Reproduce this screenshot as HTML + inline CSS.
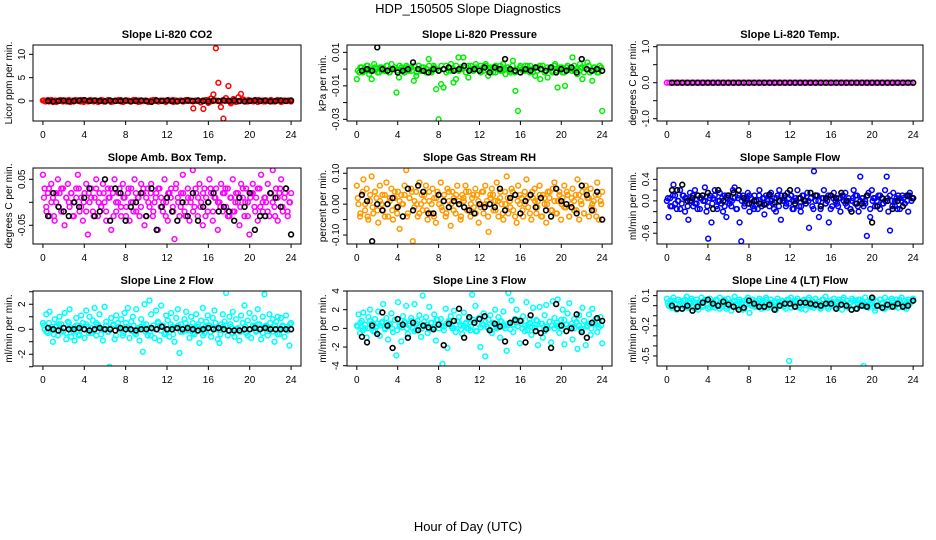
<!DOCTYPE html>
<html><head><meta charset="utf-8">
<style>
html,body{margin:0;padding:0;background:#fff;}
svg{display:block;font-family:"Liberation Sans",Arial,sans-serif;}
</style></head>
<body>
<svg id="chart" width="936" height="540" viewBox="0 0 936 540">
<text x="468" y="13" text-anchor="middle" font-size="13">HDP_150505  Slope Diagnostics</text>
<text x="468" y="531" text-anchor="middle" font-size="13">Hour of Day (UTC)</text>
</svg>
<script>
const xTicks = [0,4,8,12,16,20,24];

const co2Color = [0.1,-0.1,0.2,0,-0.2,0.1,0,0.2,-0.1,0.1, 0,-0.2,0.1,0.2,0,-0.1,0.1,0,-0.1,0.2, 0,0.1,-0.2,0,0.1,-0.1,0.2,0,-0.1,0.1, 0,0.2,-0.2,0,0.1,-0.1,0,0.2,0.1,-0.1, 0,0.1,-0.2,0.1,0,0.2,-0.1,0,0.1,-0.1, 0.2,0,-0.2,0.1,0,0.1,-0.1,0.2,0,0.1, -1.6,0,0.1,-0.3,-1.7,0.2,-0.4,0.5,1.4,11.3, 3.9,-1.3,-3.8,0.6,3.2,-0.5,0.4,-0.2,0.8,1.5, 0.3,-0.1,0.2,0,-0.1,0.1,0.2,0,-0.1,0.1, 0,0.2,-0.1,0,0.1,-0.2,0.1,0,0.1,-0.1];
const co2Core = [0.1,0,-0.1,0.2,0,-0.2,0.1,0,0.1,-0.1, 0.2,0,-0.1,0.1,0,0.2,-0.2,0,0.1,0, -0.1,0.1,0,0.2,-0.1,0,0.1,-0.2,0,0.1, 0.2,-0.1,0,0.1,0,-0.1,0.2,0,-0.2,0.1, 0,0.1,-0.1,0,0.2,0,-0.1,0.1,0,-0.2, 0.1,0,0.2,-0.1,0,0.1,-0.1,0,0.2,0, -0.1,0.1,0,-0.2,0.1,0,0.2,-0.1,0,0.1, 0,-0.1,0.2,0,0.1,-0.2,0,0.1,-0.1,0, 0.2,0,-0.1,0.1,0,0.2,-0.2,0,0.1,-0.1, 0,0.1,0,-0.1,0.2,0,-0.1,0.1,0,0.1];
const co2Black = [0,-0.1,0,0.1,-0.1,0,0.1,0.2,0,0.1,0,-0.1,0.1,0,0,0.1,-0.1,0,0.1,0,-0.2,0.1,0,0.1,0,-0.1,0,0.1,0,0.1,0,-0.1,0.1,0,0.1,0,0.1,0,-0.1,0,0.1,0,0.1,-0.1,0,0.1,0,0.1];

const presColor = [-0.006,-0.002,0.001,-0.001,0.002,-0.003,-0.006,0.003,0,-0.002, 0.001,-0.001,0.002,-0.002,0.003,0,-0.014,-0.005,0.001,-0.002, 0.002,-0.001,0.001,-0.007,-0.004,0.002,-0.001,0.001,-0.002,0.006, -0.001,0.002,-0.012,-0.030,-0.009,-0.011,0.002,-0.001,0.003,-0.008, -0.006,0.007,0.001,0.007,-0.002,-0.005,0.002,-0.001,0.003,0, 0.002,-0.001,0.003,-0.004,0.001,-0.002,0.002,0,-0.001,0.003, -0.003,0.001,-0.002,0.005,-0.013,-0.025,0.002,-0.001,0.002,0, 0.002,-0.002,-0.004,0.001,-0.006,0.002,-0.001,-0.005,0.001,-0.002, 0.003,-0.011,0.001,-0.002,-0.010,0.002,0,0.007,-0.001,-0.003, 0.003,-0.006,0.001,0.004,-0.002,-0.007,0.001,-0.002,0.002,-0.025];
const presCore = [-0.001,0.001,-0.002,0,0.002,-0.001,0,0.001,-0.002,0.001, 0,-0.001,0.002,-0.002,0,0.001,-0.001,0.002,0,-0.002, 0.001,0,-0.001,0.002,-0.002,0,0.001,-0.001,0,0.002, -0.002,0.001,0,-0.001,0.002,0,-0.002,0.001,-0.001,0, 0.002,-0.001,0,0.001,-0.002,0.002,0,-0.001,0.001,0, -0.002,0.001,0.002,-0.001,0,0.001,-0.002,0,0.002,-0.001, 0,0.001,-0.001,0.002,-0.002,0,0.001,0,-0.001,0.002, -0.002,0,0.001,-0.001,0.002,0,-0.002,0.001,0,-0.001, 0.002,-0.001,0,0.001,-0.002,0.001,0,-0.001,0.002,0, -0.001,0.001,-0.002,0,0.002,-0.001,0.001,0,-0.002,0.001];
const presBlack = [-0.001,0,-0.001,0.013,0,-0.001,0,-0.002,-0.001,0,0.004,0,-0.001,-0.002,0,-0.001,0,0.001,-0.001,0,0.002,-0.001,0,-0.001,0.001,-0.002,0.001,0,0.006,0,-0.001,-0.002,0,-0.001,0.001,0,-0.001,0.001,-0.002,0,-0.001,0.001,-0.002,0.006,0,-0.001,0,-0.001];

const tempColor = [0,0,0,0,0,0,0,0,0,0, 0,0,0,0,0,0,0,0,0,0, 0,0,0,0,0,0,0,0,0,0, 0,0,0,0,0,0,0,0,0,0, 0,0,0,0,0,0,0,0,0,0, 0,0,0,0,0,0,0,0,0,0, 0,0,0,0,0,0,0,0,0,0, 0,0,0,0,0,0,0,0,0,0, 0,0,0,0,0,0,0,0,0,0, 0,0,0,0,0,0,0,0,0,0];
const tempCore = [];
const tempBlack = [0,0,0,0,0,0,0,0,0,0,0,0,0,0,0,0,0,0,0,0,0,0,0,0,0,0,0,0,0,0,0,0,0,0,0,0,0,0,0,0,0,0,0,0,0,0,0,0];

const ambColor = [0.06,0.03,-0.01,0.02,-0.03,0.04,0.01,-0.04,0.0,0.05, 0.02,-0.02,0.03,-0.05,0.01,0.04,-0.01,0.02,-0.03,0.0, 0.03,0.06,-0.02,0.01,-0.04,0.02,0.04,-0.07,0.0,0.03, -0.02,0.01,0.05,-0.03,0.02,-0.01,0.04,0.0,-0.04,0.03, 0.01,-0.06,0.02,0.05,-0.02,0.0,0.03,-0.03,0.04,0.01, -0.01,0.02,-0.04,0.03,0.0,0.05,-0.02,0.01,-0.03,0.04, 0.02,-0.05,0.01,0.03,-0.01,0.04,-0.03,0.0,0.02,-0.06, 0.03,0.01,-0.02,0.05,0.0,-0.04,0.02,0.03,-0.01,-0.08, 0.04,0.01,-0.03,0.02,0.06,-0.02,0.0,0.03,-0.04,0.01, 0.07,-0.01,0.02,-0.03,0.04,0.0,-0.05,0.03,0.01,-0.02, 0.05,0.02,-0.04,0.01,0.03,-0.06,0.0,0.04,-0.02,0.02, -0.01,0.03,-0.03,0.01,0.05,-0.02,0.02,0.0,-0.05,0.04, 0.01,-0.03,0.03,0.0,-0.07,0.02,0.04,-0.01,0.01,-0.04, 0.03,0.06,-0.02,0.01,0.0,0.04,-0.03,0.02,0.07,-0.01, 0.03,-0.04,0.02,0.05,-0.02,0.01,0.03,-0.03,0.0,0.02];
const ambCore = [0.01,-0.02,0.03,0.0,-0.03,0.02,-0.01,0.03,-0.02,0.01, 0.0,0.02,-0.03,0.01,0.03,-0.01,0.0,-0.02,0.02,0.01, -0.03,0.03,0.0,-0.01,0.02,-0.02,0.01,0.03,-0.03,0.0, 0.02,-0.01,0.01,-0.03,0.03,0.0,-0.02,0.02,0.01,-0.01, 0.03,-0.03,0.0,0.02,-0.02,0.01,0.03,-0.01,0.0,-0.03, 0.02,0.01,-0.02,0.03,0.0,-0.01,0.02,-0.03,0.01,0.0, -0.02,0.03,0.01,-0.01,0.02,-0.03,0.0,0.03,-0.02,0.01, 0.0,-0.01,0.02,0.03,-0.03,0.01,-0.02,0.0,0.02,-0.01, 0.03,0.0,-0.03,0.01,0.02,-0.02,0.03,-0.01,0.0,0.01, -0.02,0.02,0.0,-0.03,0.01,0.03,-0.01,0.02,-0.02,0.0];
const ambBlack = [-0.03,0.02,-0.01,-0.02,-0.03,0.0,-0.01,0.01,0.03,-0.03,-0.02,0.05,-0.04,0.03,0.02,-0.04,-0.01,0.0,0.02,-0.03,0.03,-0.06,-0.01,0.01,-0.02,-0.04,0.0,-0.03,0.02,-0.04,-0.01,0.0,0.02,-0.02,-0.01,-0.02,-0.04,0.01,-0.01,0.02,-0.06,-0.03,-0.03,0.02,0.01,-0.01,0.03,-0.07];

const rhColor = [0.06,0.0,-0.04,0.03,0.08,-0.02,0.05,-0.05,0.01,0.09, -0.03,0.04,0.02,-0.06,0.06,0.0,-0.02,0.03,0.07,-0.04, 0.01,0.05,-0.05,0.02,-0.01,0.04,-0.08,0.03,0.0,0.06, 0.11,-0.03,0.02,0.05,-0.12,0.01,0.04,-0.04,0.07,0.0, -0.02,0.03,0.06,-0.05,0.01,-0.03,0.05,0.02,-0.06,0.04, 0.0,0.07,-0.02,0.03,-0.04,0.05,0.01,-0.07,0.04,0.02, -0.03,0.06,0.0,-0.05,0.03,0.01,0.06,-0.02,0.04,-0.04, 0.02,-0.01,0.05,0.03,-0.06,0.0,0.04,-0.03,0.06,0.01, -0.09,0.03,0.05,-0.02,0.01,0.07,-0.04,0.02,0.0,-0.05, 0.04,0.09,-0.03,0.01,0.05,-0.02,0.03,-0.06,0.06,0.0, 0.02,-0.04,0.04,0.08,-0.01,0.03,-0.05,0.02,0.05,-0.03, 0.01,0.06,-0.04,0.03,0.0,-0.06,0.04,0.02,-0.02,0.05, 0.07,-0.03,0.01,0.04,-0.05,0.02,0.06,-0.01,0.03,-0.04, 0.0,0.05,-0.02,0.03,0.08,-0.05,0.01,0.04,-0.03,0.06, 0.02,-0.04,0.05,0.0,-0.02,0.03,0.07,-0.05,0.01,0.04];
const rhCore = [0.02,-0.03,0.04,0.0,-0.04,0.03,-0.01,0.04,-0.02,0.01, 0.03,-0.04,0.0,0.02,-0.02,0.04,-0.03,0.01,0.0,0.03, -0.04,0.02,0.04,-0.01,0.0,-0.03,0.03,0.01,-0.02,0.04, 0.0,-0.04,0.02,0.03,-0.01,0.01,-0.03,0.04,0.0,-0.02, 0.03,0.01,-0.04,0.02,0.04,-0.02,0.0,0.03,-0.03,0.01, -0.01,0.04,0.0,-0.04,0.02,0.03,-0.02,0.01,0.04,-0.03, 0.0,0.02,-0.01,0.04,-0.04,0.01,0.03,-0.02,0.0,0.02, -0.03,0.04,0.01,-0.01,0.03,-0.04,0.02,0.0,0.04,-0.02, 0.01,-0.03,0.03,0.0,-0.01,0.04,-0.04,0.02,0.01,-0.02, 0.03,0.0,-0.03,0.04,0.02,-0.01,0.01,-0.04,0.03,0.0];
const rhBlack = [0.03,0.01,-0.12,0.0,-0.02,0.0,0.02,-0.01,-0.04,0.05,-0.02,0.06,0.04,-0.03,-0.03,0.03,0.01,-0.01,0.01,0.0,-0.01,-0.02,-0.03,0.0,-0.01,0.0,-0.01,0.05,-0.02,0.02,0.03,-0.03,0.01,0.03,-0.01,0.02,-0.02,-0.04,0.05,0.01,0.0,-0.01,-0.03,0.06,0.03,-0.02,0.04,-0.05];

const sampColor = [0.0,-0.3,0.05,-0.1,0.3,0.1,-0.15,0.0,0.2,-0.05, 0.1,-0.2,0.05,-0.35,0.15,0.0,-0.1,0.2,-0.05,0.1, -0.15,0.05,0.0,0.25,-0.2,-0.7,0.1,-0.4,0.05,0.2, -0.1,0.0,0.15,-0.05,-0.2,0.1,-0.3,0.05,0.0,-0.1, 0.2,0.25,-0.15,0.05,-0.4,-0.75,0.1,-0.05,0.0,0.15, -0.2,0.05,-0.1,0.1,0.0,-0.15,0.2,-0.05,0.05,-0.25, 0.1,0.0,-0.1,0.15,-0.05,0.05,-0.2,0.1,0.2,-0.35, 0.0,0.05,-0.1,0.15,-0.05,0.1,-0.15,0.0,0.05,0.2, -0.1,-0.2,0.1,0.0,-0.05,0.15,-0.5,0.05,-0.1,0.55, 0.0,0.1,-0.3,-0.15,0.05,0.2,-0.05,0.0,-0.4,0.1, -0.1,0.15,0.0,-0.05,0.05,-0.2,0.1,0.0,0.15,-0.1, 0.05,-0.15,0.0,0.2,-0.05,0.1,-0.2,0.45,0.05,-0.1, 0.0,-0.65,0.15,-0.3,0.2,0.05,-0.1,0.0,0.1,-0.15, 0.05,-0.05,0.2,0.45,-0.2,-0.55,0.0,0.15,-0.1,0.05, 0.1,-0.15,0.0,0.05,-0.05,0.1,-0.2,0.15,0.0,0.05];
const sampCore = [0.05,-0.1,0.1,-0.05,0.0,-0.15,0.1,0.05,-0.1,0.0, 0.1,-0.05,-0.15,0.05,0.1,0.0,-0.1,0.05,-0.05,0.1, -0.15,0.0,0.05,-0.1,0.1,-0.05,0.0,0.05,-0.15,0.1, 0.0,-0.1,0.05,0.1,-0.05,-0.15,0.0,0.1,-0.1,0.05, -0.05,0.1,0.0,-0.15,0.05,-0.1,0.1,0.0,-0.05,0.05, 0.1,-0.15,0.0,0.05,-0.1,0.1,-0.05,0.0,0.05,-0.15, 0.1,0.0,-0.1,0.05,-0.05,0.1,-0.15,0.05,0.0,-0.1, 0.05,0.1,-0.05,0.0,-0.15,0.05,0.1,-0.1,0.0,0.05, -0.05,0.1,-0.15,0.0,0.05,-0.1,0.1,-0.05,0.0,0.05, 0.1,-0.1,0.0,-0.15,0.05,0.1,-0.05,0.0,0.1,0.05];
const sampBlack = [0.2,0.2,0.3,0.0,0.05,0.1,0.1,0.15,-0.15,0.2,0.0,0.1,0.15,0.2,0.05,-0.05,0.0,-0.05,-0.07,0.12,-0.03,0.0,0.1,0.2,-0.05,0.05,0.0,0.15,0.1,-0.1,0.05,0.1,0.05,0.15,0.0,-0.2,-0.05,-0.05,0.1,-0.4,-0.1,0.05,0.0,-0.15,0.0,-0.1,0.1,0.05];

const l2Color = [0.5,0.0,1.2,-0.3,1.4,0.2,-1.0,0.8,0.3,-0.5, 1.0,0.4,-0.2,1.3,-0.8,0.6,1.6,-0.6,0.1,-0.9, 0.9,0.3,-0.4,1.1,0.5,-0.7,1.5,0.2,1.0,-0.3, 0.7,1.7,-0.5,0.4,1.2,0.0,-0.9,1.8,0.6,-0.2, -3.0,0.9,0.3,-0.8,1.1,0.5,0.0,0.8,-0.5,1.3, 0.2,1.7,-0.7,0.6,1.0,-0.3,1.6,0.1,-0.9,0.8, -1.8,2.0,0.4,-0.5,2.3,1.2,0.0,-0.7,1.5,0.6, -0.9,1.9,0.3,-0.4,1.1,0.7,-0.6,1.3,0.2,-1.0, 0.9,1.6,-1.9,0.4,-0.2,0.8,1.4,0.0,-0.7,1.0, 0.5,-0.4,1.2,0.2,-1.1,0.7,1.7,-0.3,0.6,1.1, 0.3,-0.6,0.9,1.5,0.0,-0.8,-1.1,0.4,1.2,0.6, 2.9,-0.5,1.0,0.2,1.4,-0.6,0.8,0.0,-0.9,1.1, 0.5,1.9,-0.3,0.7,1.3,-0.7,0.2,0.9,-0.2,1.6, 0.4,-0.8,1.0,2.8,0.3,-0.5,1.2,0.0,0.8,-1.0, 0.6,1.0,-0.4,0.9,0.3,-0.6,1.1,0.2,-1.3,0.5];
const l2Core = [0.3,-0.2,0.5,0.0,-0.4,0.2,0.4,-0.1,0.1,-0.3, 0.5,0.0,-0.2,0.3,-0.5,0.2,0.0,0.4,-0.3,0.1, -0.1,0.5,0.2,-0.4,0.0,0.3,-0.2,0.1,0.4,-0.5, 0.2,0.0,-0.3,0.5,0.1,-0.1,0.3,-0.4,0.0,0.2, 0.4,-0.2,0.1,-0.5,0.3,0.0,0.5,-0.1,0.2,-0.3, 0.0,0.4,-0.4,0.1,0.3,-0.2,0.0,0.5,-0.1,0.2, -0.3,0.1,0.4,0.0,-0.5,0.2,0.3,-0.2,0.1,0.5, 0.0,-0.4,0.2,0.3,-0.1,0.4,-0.3,0.0,0.1,-0.2, 0.5,0.2,-0.5,0.0,0.3,-0.1,0.4,0.1,-0.3,0.2, 0.0,0.5,-0.2,0.3,-0.4,0.1,0.2,0.0,-0.1,0.4];
const l2Black = [0.1,0.0,-0.1,0.1,0.0,0.0,0.1,0.0,-0.1,0.0,0.1,0.0,0.0,-0.1,0.1,0.0,0.0,-0.1,0.0,0.0,0.1,0.0,0.2,0.0,0.0,0.1,0.0,0.1,0.0,-0.1,0.0,0.1,0.0,0.1,0.0,-0.1,-0.1,-0.1,0.0,0.0,0.1,0.0,0.1,0.0,0.0,0.0,0.0,0.0];

const l3Color = [0.3,1.5,-0.5,0.8,1.7,0.0,-1.0,1.2,2.0,0.5, -0.3,1.0,0.2,1.8,-0.8,0.6,2.6,0.0,1.1,-1.2, 0.4,1.6,-0.4,0.9,-2.9,2.8,0.2,-1.4,1.3,0.7, 2.4,-0.6,0.5,1.1,0.0,2.6,-0.2,0.8,1.4,-0.9, 3.5,0.3,1.2,-0.5,2.3,0.6,0.0,1.5,-1.3,0.9, 0.4,1.0,-3.8,0.2,2.1,-2.1,0.7,1.3,0.0,1.9, -0.4,0.8,1.2,0.3,-0.6,1.7,0.5,0.0,1.0,-0.2, 3.6,0.6,2.4,-0.3,1.1,-2.0,0.4,1.6,-3.0,0.2, 0.9,1.4,-0.5,0.6,2.0,0.0,1.2,-1.0,0.7,1.8, 0.3,-2.4,3.8,0.5,3.0,-0.4,1.0,2.0,0.2,-1.6, 0.8,1.3,-0.3,2.8,0.4,1.0,-0.7,2.2,0.1,0.9, -1.8,2.3,0.5,-1.0,1.4,2.5,0.0,0.7,-1.5,2.9, 1.1,0.3,3.1,-0.5,0.9,2.0,-1.7,0.4,1.6,2.7, 0.2,-1.2,1.0,0.6,-2.2,1.4,0.0,2.2,0.8,-1.8, 0.3,1.5,-0.7,2.1,0.5,1.0,-0.4,0.7,1.2,-1.6];
const l3Core = [0.2,0.6,-0.2,0.4,0.0,0.8,0.1,-0.3,0.5,0.3, 0.7,-0.1,0.2,0.5,0.0,0.9,-0.2,0.4,0.1,0.6, 0.0,0.3,0.8,-0.3,0.5,0.2,0.0,0.7,0.4,-0.1, 0.6,0.1,0.9,0.0,0.3,-0.2,0.5,0.8,0.2,0.0, 0.4,0.7,-0.1,0.3,0.6,0.0,0.2,0.9,-0.3,0.5, 0.1,0.4,0.7,0.0,-0.2,0.6,0.3,0.1,0.8,0.2, 0.0,0.5,-0.1,0.4,0.7,0.2,0.9,0.0,0.3,-0.2, 0.6,0.1,0.4,0.8,0.0,0.5,-0.3,0.2,0.7,0.3, 0.0,0.6,0.2,-0.1,0.9,0.4,0.1,0.5,0.0,0.7, 0.3,-0.2,0.8,0.2,0.5,0.0,0.6,0.4,0.1,0.3];
const l3Black = [-0.9,-1.5,0.3,-0.6,1.7,0.3,-2.1,1.0,0.4,-1.0,0.6,-0.2,0.3,0.1,-0.1,0.4,-1.8,0.5,0.8,2.1,-1.0,1.2,0.6,1.0,1.3,-0.2,0.5,0.2,-1.4,0.6,0.9,0.8,-1.5,1.4,-0.3,-0.5,-0.1,-2.1,2.6,0.3,-0.3,0.0,1.5,-0.4,-1.0,0.6,1.1,0.8];

const l4Color = [0.07,0.0,0.05,-0.02,0.08,0.02,-0.04,0.06,0.01,-0.03, 0.05,0.0,0.09,-0.02,0.04,0.07,-0.01,0.03,0.06,-0.04, 0.02,0.08,0.0,-0.63,0.05,-0.03,0.07,0.01,0.04,-0.02, 0.06,0.0,0.08,-0.01,0.03,0.05,-0.03,0.07,0.02,-0.05, 0.04,0.09,0.0,-0.02,0.06,0.03,-0.04,0.05,0.01,0.08, -0.07,0.02,0.06,-0.01,0.04,0.0,0.07,-0.03,0.05,0.02, 0.08,-0.02,0.03,0.06,0.0,0.04,-0.04,0.07,0.01,0.03, 0.05,0.02,-0.03,0.06,-0.55,0.08,0.03,-0.01,0.05,0.07, -0.02,0.04,0.01,0.06,-0.04,0.03,0.08,0.0,0.05,-0.02, 0.07,0.02,0.04,-0.03,0.06,0.01,0.09,-0.01,0.03,0.05, 0.0,0.07,-0.02,0.04,0.06,0.01,-0.04,0.08,0.02,0.05, -0.01,0.03,0.07,0.0,0.05,-0.03,0.06,0.02,0.04,-0.60, 0.08,0.01,-0.02,0.05,0.03,0.07,-0.05,0.04,0.0,0.06, 0.02,-0.03,0.08,0.01,0.05,-0.01,0.07,0.03,0.0,0.06, -0.02,0.04,0.08,0.01,0.05,-0.03,0.06,0.02,0.04,0.07];
const l4Core = [0.03,-0.01,0.05,0.01,-0.03,0.04,0.0,0.06,-0.02,0.02, 0.05,-0.03,0.01,0.04,-0.01,0.06,0.02,-0.02,0.03,0.0, 0.05,-0.03,0.02,0.06,-0.01,0.03,0.0,0.05,-0.02,0.04, 0.01,-0.03,0.06,0.02,0.0,0.04,-0.01,0.05,0.03,-0.02, 0.06,0.0,0.02,-0.03,0.04,0.01,0.05,-0.01,0.03,0.06, -0.02,0.02,0.04,0.0,-0.03,0.05,0.01,0.06,-0.01,0.03, 0.0,0.04,-0.02,0.06,0.02,-0.03,0.05,0.01,0.03,-0.01, 0.04,0.06,0.0,-0.02,0.03,0.05,-0.03,0.02,0.06,0.01, -0.01,0.04,0.02,0.05,-0.02,0.0,0.06,0.03,-0.03,0.04, 0.01,0.05,-0.01,0.03,0.06,0.0,-0.02,0.04,0.02,0.05];
const l4Black = [0.0,-0.03,-0.03,0.0,-0.05,-0.01,0.03,0.06,0.02,0.0,0.04,0.01,-0.01,-0.04,-0.02,0.05,0.02,-0.01,-0.01,0.01,-0.04,0.0,0.02,0.02,-0.01,0.03,0.03,0.02,0.01,0.0,0.02,0.02,-0.03,0.01,0.0,-0.04,-0.03,0.0,-0.01,0.08,0.0,-0.02,0.01,-0.01,0.02,-0.01,0.0,0.05];

const co2Ticks=[0,5,10], co2Labels=["0","5","10"];
const presTicks=[-0.03,-0.02,-0.01,0,0.01], presLabels=["-0.03","","-0.01","","0.01"];
const tempTicks=[-1,-0.5,0,0.5,1], tempLabels=["-1.0","","0.0","","1.0"];
const ambTicks=[-0.05,0,0.05], ambLabels=["-0.05","","0.05"];
const rhTicks=[-0.1,-0.05,0,0.05,0.1], rhLabels=["-0.10","","0.00","","0.10"];
const sampTicks=[-0.6,-0.4,-0.2,0,0.2,0.4], sampLabels=["-0.6","","","0.0","","0.4"];
const l2Ticks=[-3,-2,-1,0,1,2,3], l2Labels=["","-2","","0","","2",""];
const l3Ticks=[-4,-2,0,2,4], l3Labels=["-4","-2","0","2","4"];
const l4Ticks=[-0.5,-0.4,-0.3,-0.2,-0.1,0,0.1], l4Labels=["-0.5","","","-0.2","","","0.1"];

const panels = [
 {name:"co2",title:"Slope Li-820 CO2",ylab:"Licor ppm per min.",col:0,row:0,ymin:-4.3,ymax:12,color:"#ff0000",c:co2Color,k:co2Core,b:co2Black,t:co2Ticks,l:co2Labels},
 {name:"pressure",title:"Slope Li-820 Pressure",ylab:"kPa per min.",col:1,row:0,ymin:-0.031,ymax:0.0144,color:"#00ee00",c:presColor,k:presCore,b:presBlack,t:presTicks,l:presLabels},
 {name:"temp",title:"Slope Li-820 Temp.",ylab:"degrees C per min.",col:2,row:0,ymin:-1.064,ymax:1.047,color:"#ff00ff",c:tempColor,k:tempCore,b:tempBlack,t:tempTicks,l:tempLabels},
 {name:"amb-box-temp",title:"Slope Amb. Box Temp.",ylab:"degrees C per min.",col:0,row:1,ymin:-0.0907,ymax:0.0746,color:"#ff00ff",c:ambColor,k:ambCore,b:ambBlack,t:ambTicks,l:ambLabels},
 {name:"gas-rh",title:"Slope Gas Stream RH",ylab:"percent per min.",col:1,row:1,ymin:-0.129,ymax:0.117,color:"#ff9900",c:rhColor,k:rhCore,b:rhBlack,t:rhTicks,l:rhLabels},
 {name:"sample-flow",title:"Slope Sample Flow",ylab:"ml/min per min.",col:2,row:1,ymin:-0.80,ymax:0.61,color:"#0000ff",c:sampColor,k:sampCore,b:sampBlack,t:sampTicks,l:sampLabels},
 {name:"line2-flow",title:"Slope Line 2 Flow",ylab:"ml/min per min.",col:0,row:2,ymin:-2.94,ymax:3.06,color:"#00ffff",c:l2Color,k:l2Core,b:l2Black,t:l2Ticks,l:l2Labels},
 {name:"line3-flow",title:"Slope Line 3 Flow",ylab:"ml/min per min.",col:1,row:2,ymin:-4.03,ymax:4.0,color:"#00ffff",c:l3Color,k:l3Core,b:l3Black,t:l3Ticks,l:l3Labels},
 {name:"line4-flow",title:"Slope Line 4 (LT) Flow",ylab:"ml/min per min.",col:2,row:2,ymin:-0.60,ymax:0.146,color:"#00ffff",c:l4Color,k:l4Core,b:l4Black,t:l4Ticks,l:l4Labels}
];
const colX=[[33,301],[347,612],[657,923]];
const rowY=[[45,121],[168,244],[291,366]];
const NS="http://www.w3.org/2000/svg";
const svg=document.getElementById('chart');
function mk(tag,attrs,parent){const e=document.createElementNS(NS,tag);for(const k in attrs)e.setAttribute(k,attrs[k]);(parent||svg).appendChild(e);return e;}

panels.forEach(p=>{
  const [x0,x1]=colX[p.col],[y0,y1]=rowY[p.row];
  const g=mk('g',{});
  
  
  const xs=h=>x0+(h+0.96)/25.92*(x1-x0);
  const ys=v=>y1-(v-p.ymin)/(p.ymax-p.ymin)*(y1-y0);
  const t=mk('text',{x:(x0+x1)/2,y:y0-7,'text-anchor':'middle','font-size':11,'font-weight':'bold'},g);
  t.textContent=p.title;
  
  
  const yl=mk('text',{transform:`translate(${x0-21},${(y0+y1)/2}) rotate(-90)`,'text-anchor':'middle','font-size':10},g);
  yl.textContent=p.ylab;
  
  
  const cid='clip-'+p.name;
  const cp=mk('clipPath',{id:cid},g);mk('rect',{x:x0,y:y0,width:x1-x0,height:y1-y0},cp);
  const pts=mk('g',{'clip-path':`url(#${cid})`},g);
  const n=p.c.length;
  p.c.forEach((v,i)=>{
    const c=mk('circle',{cx:xs(i*24/(n-1)),cy:ys(v),r:2.4,fill:'none',stroke:p.color,'stroke-width':1.5},pts);
    
    
  });
  const q=p.k.length;
  p.k.forEach((v,i)=>{
    const c=mk('circle',{cx:xs(0.1+i*23.8/(q-1)),cy:ys(v),r:2.4,fill:'none',stroke:p.color,'stroke-width':1.5},pts);
    
    
  });
  const m=p.b.length;
  p.b.forEach((v,i)=>{
    const c=mk('circle',{cx:xs(0.5+i*23.5/(m-1)),cy:ys(v),r:2.4,fill:'none',stroke:'#000','stroke-width':1.6},pts);
    
    
  });
  const box=mk('rect',{x:x0,y:y0,width:x1-x0,height:y1-y0,fill:'none',stroke:'#000','stroke-width':1},g);
  
  
  xTicks.forEach(h=>{
    const x=xs(h);
    mk('line',{x1:x,x2:x,y1:y1,y2:y1+4,stroke:'#000'},g);
    const tl=mk('text',{x:x,y:y1+17,'text-anchor':'middle','font-size':10},g);
    tl.textContent=h;
    
    
  });
  p.t.forEach((v,i)=>{
    const y=ys(v);
    mk('line',{x1:x0-4,x2:x0,y1:y,y2:y,stroke:'#000'},g);
    if(p.l[i]){
      const tl=mk('text',{transform:`translate(${x0-8},${y}) rotate(-90)`,'text-anchor':'middle','font-size':10},g);
      tl.textContent=p.l[i];
      
      
    }
  });
});
</script>
</body></html>
